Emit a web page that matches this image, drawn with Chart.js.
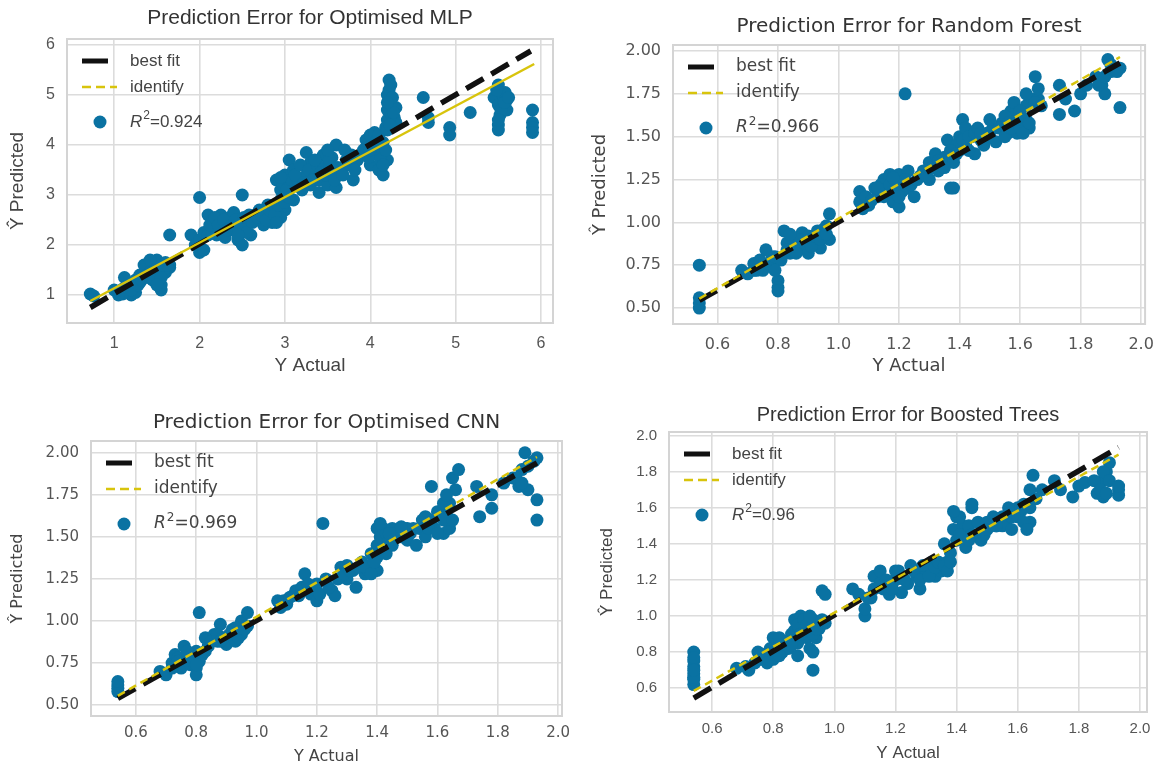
<!DOCTYPE html>
<html>
<head>
<meta charset="utf-8">
<title>Prediction Error</title>
<script src="https://cdn.jsdelivr.net/npm/chart.js@4.4.1/dist/chart.umd.min.js"></script>
<style>
  html, body { margin: 0; padding: 0; background: #fff; }
  #wrap { position: relative; width: 1165px; height: 767px; }
  #wrap canvas { position: absolute; left: 0; top: 0; }
</style>
</head>
<body>
<div id="wrap">
  <canvas id="mlp" width="1165" height="767"></canvas>
  <canvas id="rf" width="1165" height="767"></canvas>
  <canvas id="cnn" width="1165" height="767"></canvas>
  <canvas id="bt" width="1165" height="767"></canvas>
</div>
<script>
// ---- data ----

// Optimised MLP
const mlpActual = [0.72,0.76,1.0,1.05,1.1,1.15,1.2,1.25,1.22,1.18,1.1,1.12,1.25,1.3,1.3,1.35,1.4,1.4,1.45,1.45,1.5,1.5,1.5,1.55,1.55,1.55,1.6,1.6,1.65,1.65,1.65,1.35,1.42,
  1.05,1.15,1.2,1.28,1.32,1.38,1.42,1.48,1.52,1.58,1.62,1.45,1.55,1.5,
  1.9,1.95,2.0,2.0,2.05,2.05,2.0,2.1,2.1,2.15,2.2,2.25,2.2,2.3,2.3,2.35,2.4,2.4,2.45,2.5,2.5,2.5,2.55,2.6,2.6,
  2.12,2.18,2.22,2.28,2.32,2.38,2.42,2.48,2.52,2.55,2.58,2.45,
  2.65,2.7,2.7,2.75,2.8,2.8,2.85,2.9,2.9,2.95,2.95,3.0,3.0,3.0,3.05,3.05,3.1,3.1,2.85,2.75,2.95,
  2.62,2.68,2.72,2.78,2.82,2.88,2.92,2.98,3.02,3.08,2.95,3.0,3.05,2.9,
  3.15,3.2,3.25,3.25,3.3,3.35,3.4,3.4,3.45,3.5,3.5,3.55,3.6,3.6,3.65,3.7,3.75,3.8,3.85,3.3,3.45,3.55,
  3.12,3.18,3.22,3.28,3.32,3.38,3.42,3.48,3.52,3.58,3.62,3.68,3.72,3.78,3.82,3.5,3.35,
  3.9,3.95,4.0,4.0,4.05,4.1,4.1,4.15,4.15,4.2,3.95,4.05,
  3.92,3.98,4.02,4.08,4.12,4.18,4.0,4.1,4.15,
  4.2,4.2,4.22,4.22,4.22,4.25,4.25,4.28,4.3,4.3,4.2,4.18,
  4.2,4.23,4.24,4.26,4.27,4.2,
  4.62,4.68,4.68,4.93,4.93,5.17,
  5.45,5.5,5.5,5.52,5.5,5.5,5.55,5.6,5.6,5.58,
  5.48,5.53,5.57,5.62,5.5,
  5.9,5.9,5.9,5.9];
const mlpPredicted = [1.02,0.98,1.1,1.05,1.12,1.05,1.0,1.05,1.15,1.2,1.02,1.35,1.3,1.4,1.25,1.45,1.5,1.35,1.65,1.4,1.7,1.55,1.3,1.2,1.6,1.1,1.45,1.65,1.55,1.6,2.2,1.6,1.7,
  1.0,1.15,1.1,1.2,1.3,1.4,1.45,1.5,1.45,1.5,1.6,1.3,1.35,1.2,
  2.2,2.0,1.85,2.1,1.9,2.25,2.95,2.2,2.6,2.5,2.3,2.6,2.2,2.4,2.15,2.55,2.65,2.3,2.1,3.0,2.0,2.45,2.4,2.5,2.2,
  2.4,2.55,2.4,2.5,2.3,2.4,2.5,2.35,2.55,2.25,2.6,2.2,
  2.6,2.5,2.7,2.4,2.6,2.8,2.5,2.7,3.3,2.9,3.1,3.0,2.7,3.4,3.7,3.2,2.9,3.5,2.45,2.65,2.55,
  2.45,2.55,2.6,2.5,2.7,2.6,2.8,3.2,3.1,3.3,3.35,2.85,2.95,2.45,
  3.3,3.1,3.85,3.4,3.2,3.5,3.05,3.3,3.8,3.6,3.2,3.4,4.0,3.15,3.5,3.9,3.6,3.3,3.7,3.65,3.55,3.75,
  3.4,3.6,3.25,3.5,3.3,3.6,3.45,3.4,3.7,3.3,3.55,3.4,3.7,3.8,3.5,3.9,3.7,
  3.8,4.1,3.6,4.2,3.9,3.5,3.8,4.05,3.4,3.7,3.95,4.25,
  3.9,3.75,4.0,4.1,3.7,3.9,3.9,4.2,3.6,
  4.5,4.7,4.9,5.1,5.3,4.6,4.8,4.55,4.75,4.45,5.0,4.35,
  4.3,4.4,5.2,4.95,4.65,4.85,
  4.95,4.55,4.45,4.35,4.2,4.65,
  4.95,5.2,4.8,4.6,4.4,4.3,5.0,4.9,4.7,5.05,
  5.1,4.7,4.85,4.95,4.5,
  4.7,4.45,4.35,4.25];
const mlpBestFitX = [0.72, 5.88];
const mlpBestFitY = [0.75, 5.88];
const mlpIdentityX = [0.72, 5.92];
const mlpIdentityY = [0.88, 5.62];
const mlpXTicks = [1, 2, 3, 4, 5, 6];
const mlpYTicks = [1, 2, 3, 4, 5, 6];
const mlpXTickLabels = ['1', '2', '3', '4', '5', '6'];
const mlpYTickLabels = ['1', '2', '3', '4', '5', '6'];
const mlpR2 = '0.924';

// Random Forest
const rfActual = [0.54,0.54,0.54,0.54,
  0.68,0.7,0.72,0.74,0.75,0.76,0.78,0.78,0.8,0.8,0.8,0.8,0.82,0.83,0.84,0.85,0.86,0.88,0.88,0.9,0.9,0.92,0.93,0.94,0.95,0.96,0.97,0.97,0.73,0.91,
  0.72,0.77,0.79,0.81,0.83,0.86,0.87,0.89,0.91,0.92,0.94,0.95,0.96,0.84,0.79,
  1.07,1.07,1.08,1.1,1.12,1.13,1.15,1.16,1.17,1.18,1.2,1.2,1.2,1.22,1.23,1.23,1.25,1.27,1.14,1.19,
  1.09,1.11,1.13,1.15,1.17,1.19,1.21,1.22,1.24,1.26,1.18,1.2,
  1.28,1.3,1.3,1.32,1.33,1.35,1.36,1.37,1.38,1.38,1.4,1.4,1.41,1.42,1.42,1.44,1.45,1.34,1.39,
  1.29,1.31,1.33,1.35,1.37,1.39,1.41,1.43,1.43,1.45,1.47,1.49,1.51,1.54,1.56,1.58,1.6,1.62,1.64,1.66,1.63,1.59,1.57,
  1.46,1.48,1.5,1.5,1.52,1.53,1.55,1.55,1.57,1.58,1.6,1.6,1.61,1.62,1.62,1.63,1.65,1.65,1.66,1.67,1.47,1.56,1.59,
  1.73,1.73,1.75,1.78,1.8,1.82,1.85,1.87,1.88,1.89,1.9,1.93,1.93,
  1.86,1.88,1.9,1.92];
const rfPredicted = [0.5,0.53,0.56,0.75,
  0.72,0.7,0.76,0.78,0.72,0.84,0.8,0.74,0.78,0.66,0.62,0.6,0.95,0.88,0.82,0.9,0.86,0.85,0.94,0.92,0.82,0.88,0.95,0.85,0.92,0.98,1.05,0.9,0.72,0.9,
  0.72,0.76,0.8,0.78,0.84,0.82,0.9,0.88,0.86,0.92,0.9,0.96,0.93,0.93,0.72,
  1.18,1.12,1.08,1.1,1.2,1.15,1.25,1.18,1.28,1.12,1.09,1.22,1.28,1.75,1.3,1.2,1.15,1.27,1.22,1.17,
  1.15,1.13,1.2,1.15,1.22,1.2,1.18,1.25,1.22,1.25,1.26,1.15,
  1.3,1.35,1.25,1.4,1.3,1.38,1.48,1.2,1.2,1.35,1.5,1.42,1.6,1.55,1.45,1.5,1.4,1.33,1.45,
  1.27,1.32,1.36,1.32,1.42,1.4,1.48,1.5,1.42,1.52,1.48,1.52,1.55,1.58,1.52,1.6,1.58,1.68,1.72,1.72,1.55,1.52,1.65,
  1.55,1.45,1.5,1.6,1.47,1.55,1.62,1.5,1.55,1.7,1.65,1.55,1.52,1.75,1.6,1.58,1.85,1.7,1.78,1.68,1.52,1.58,1.6,
  1.8,1.63,1.72,1.65,1.75,1.8,1.85,1.8,1.75,1.95,1.88,1.9,1.67,
  1.8,1.85,1.92,1.88];
const rfBestFitX = [0.54, 1.93];
const rfBestFitY = [0.545, 1.93];
const rfIdentityX = [0.54, 1.93];
const rfIdentityY = [0.555, 1.965];
const rfXTicks = [0.6, 0.8, 1.0, 1.2, 1.4, 1.6, 1.8, 2.0];
const rfYTicks = [0.5, 0.75, 1.0, 1.25, 1.5, 1.75, 2.0];
const rfXTickLabels = ['0.6', '0.8', '1.0', '1.2', '1.4', '1.6', '1.8', '2.0'];
const rfYTickLabels = ['0.50', '0.75', '1.00', '1.25', '1.50', '1.75', '2.00'];
const rfR2 = '0.966';

// Optimised CNN
const cnnActual = [0.54,0.54,0.54,0.54,
  0.68,0.7,0.72,0.73,0.75,0.76,0.77,0.78,0.8,0.8,0.8,0.81,0.82,0.83,0.84,0.86,0.87,0.88,0.9,0.9,0.92,0.93,0.95,0.95,0.97,0.97,0.74,0.79,
  0.72,0.74,0.77,0.79,0.81,0.83,0.85,0.87,0.89,0.91,0.93,0.94,0.96,0.88,0.8,
  1.07,1.08,1.1,1.12,1.13,1.15,1.16,1.18,1.2,1.2,1.22,1.23,1.25,1.26,1.28,1.3,1.3,1.32,1.33,1.35,1.36,1.38,1.38,1.4,1.4,1.4,1.42,1.43,1.45,1.45,1.47,
  1.09,1.11,1.14,1.17,1.19,1.21,1.24,1.27,1.29,1.31,1.34,1.37,1.39,1.41,1.42,1.43,1.44,1.46,1.48,1.49,1.51,1.54,1.56,1.58,1.59,1.61,1.63,1.64,1.66,1.62,1.64,1.4,1.36,1.38,
  1.5,1.5,1.52,1.53,1.55,1.57,1.58,1.6,1.6,1.62,1.62,1.63,1.65,1.65,1.67,1.41,1.39,1.44,1.48,1.56,
  1.73,1.74,1.78,1.78,1.82,1.85,1.87,1.88,1.89,1.9,1.93,1.93,1.93,
  1.86,1.88,1.9,1.92];
const cnnPredicted = [0.58,0.6,0.62,0.64,
  0.7,0.68,0.75,0.8,0.72,0.85,0.78,0.74,0.72,0.68,0.82,1.05,0.8,0.9,0.85,0.92,0.88,0.98,0.9,0.86,0.95,0.88,0.92,1.0,1.05,0.97,0.78,0.76,
  0.72,0.76,0.82,0.78,0.76,0.82,0.88,0.92,0.9,0.92,0.96,0.9,0.95,0.88,0.74,
  1.12,1.08,1.1,1.15,1.18,1.2,1.28,1.16,1.12,1.22,1.58,1.25,1.18,1.15,1.32,1.25,1.33,1.3,1.2,1.35,1.28,1.4,1.3,1.45,1.55,1.3,1.5,1.4,1.55,1.45,1.5,
  1.12,1.14,1.15,1.22,1.2,1.16,1.2,1.25,1.28,1.3,1.32,1.3,1.35,1.5,1.55,1.52,1.48,1.52,1.5,1.55,1.52,1.55,1.5,1.6,1.55,1.62,1.65,1.7,1.78,1.52,1.55,1.38,1.32,1.28,
  1.55,1.48,1.55,1.45,1.6,1.55,1.8,1.65,1.52,1.7,1.6,1.75,1.85,1.6,1.9,1.58,1.35,1.52,1.56,1.62,
  1.8,1.62,1.75,1.67,1.82,1.85,1.8,1.9,2.0,1.78,1.97,1.72,1.6,
  1.85,1.82,1.92,1.95];
const cnnBestFitX = [0.54, 1.93];
const cnnBestFitY = [0.54, 1.94];
const cnnIdentityX = [0.54, 1.93];
const cnnIdentityY = [0.555, 1.975];
const cnnXTicks = [0.6, 0.8, 1.0, 1.2, 1.4, 1.6, 1.8, 2.0];
const cnnYTicks = [0.5, 0.75, 1.0, 1.25, 1.5, 1.75, 2.0];
const cnnXTickLabels = ['0.6', '0.8', '1.0', '1.2', '1.4', '1.6', '1.8', '2.0'];
const cnnYTickLabels = ['0.50', '0.75', '1.00', '1.25', '1.50', '1.75', '2.00'];
const cnnR2 = '0.969';

// Boosted Trees
const btActual = [0.54,0.54,0.54,0.54,0.54,0.54,0.54,0.54,0.54,
  0.68,0.72,0.74,0.75,0.76,0.78,0.8,0.8,0.82,0.83,0.85,0.86,0.87,0.88,0.88,0.89,0.9,0.91,0.92,0.93,0.93,0.94,0.95,0.96,0.97,0.97,0.79,0.84,
  0.71,0.76,0.78,0.81,0.82,0.84,0.86,0.87,0.88,0.89,0.9,0.91,0.92,0.93,0.93,0.94,0.96,0.82,
  1.06,1.08,1.1,1.1,1.12,1.13,1.15,1.16,1.18,1.2,1.2,1.22,1.24,1.25,1.27,1.28,1.3,1.32,1.33,1.35,1.37,1.38,1.4,1.4,1.42,1.43,1.45,1.46,1.48,
  1.11,1.13,1.15,1.17,1.19,1.21,1.23,1.26,1.28,1.29,1.31,1.33,1.34,1.36,1.37,1.38,1.39,1.41,1.42,1.44,1.45,1.47,1.49,1.51,1.53,1.55,1.56,1.58,1.6,1.61,1.62,1.64,1.64,1.45,
  1.5,1.5,1.52,1.55,1.57,1.58,1.6,1.62,1.63,1.64,1.65,1.66,1.68,1.36,1.39,1.41,1.44,1.53,1.61,
  1.72,1.74,1.78,1.8,1.82,1.86,1.88,1.88,1.89,1.9,1.93,1.93,
  1.85,1.87,1.88,1.89,1.9,1.93];
const btPredicted = [0.62,0.65,0.68,0.72,0.75,0.8,0.66,0.7,0.77,
  0.71,0.7,0.74,0.8,0.76,0.78,0.88,0.76,0.84,0.8,0.82,0.9,0.98,0.85,0.78,1.0,0.94,0.88,0.82,0.7,0.98,0.88,0.93,1.14,1.12,0.96,0.82,0.86,
  0.72,0.79,0.74,0.8,0.78,0.85,0.84,0.92,0.95,0.9,0.98,0.95,1.0,0.9,0.8,0.93,0.98,0.88,
  1.15,1.12,1.0,1.04,1.1,1.22,1.25,1.15,1.12,1.2,1.25,1.13,1.18,1.28,1.22,1.15,1.25,1.3,1.22,1.25,1.3,1.35,1.42,1.55,1.5,1.38,1.6,1.45,1.42,
  1.1,1.15,1.18,1.2,1.15,1.25,1.2,1.25,1.2,1.28,1.22,1.27,1.3,1.28,1.25,1.3,1.48,1.55,1.45,1.5,1.45,1.52,1.45,1.5,1.5,1.55,1.52,1.55,1.6,1.58,1.62,1.6,1.52,1.62,
  1.52,1.48,1.55,1.5,1.6,1.48,1.55,1.52,1.48,1.7,1.78,1.65,1.7,1.4,1.58,1.45,1.42,1.5,1.6,
  1.75,1.7,1.66,1.72,1.74,1.68,1.75,1.66,1.8,1.85,1.7,1.67,
  1.75,1.7,1.8,1.68,1.75,1.72];
const btBestFitX = [0.54, 1.93];
const btBestFitY = [0.545, 1.935];
const btIdentityX = [0.54, 1.93];
const btIdentityY = [0.585, 1.895];
const btXTicks = [0.6, 0.8, 1.0, 1.2, 1.4, 1.6, 1.8, 2.0];
const btYTicks = [0.6, 0.8, 1.0, 1.2, 1.4, 1.6, 1.8, 2.0];
const btXTickLabels = ['0.6', '0.8', '1.0', '1.2', '1.4', '1.6', '1.8', '2.0'];
const btYTickLabels = ['0.6', '0.8', '1.0', '1.2', '1.4', '1.6', '1.8', '2.0'];
const btR2 = '0.96';

// ---- styling ----
const POINT_COLOR = '#0a72a2';
const FIT_COLOR = '#111111';
const IDENT_COLOR = '#d8c40c';
const GRID_COLOR = '#dcdcdc';
const TEXT_COLOR = '#444444';
const ARIAL = '"Liberation Sans", Arial, sans-serif';
const DEJAVU = '"DejaVu Sans", sans-serif';

function zip(xs, ys) {
  return xs.map((x, i) => ({ x: x, y: ys[i] }));
}

// draws the frame around the plot, the title and the in-axes legend
const panelDecor = {
  id: 'panelDecor',
  beforeDatasetsDraw(chart, args, opts) {
    const a = chart.chartArea;
    const ctx = chart.ctx;
    ctx.save();
    ctx.strokeStyle = '#d4d4d4';
    ctx.lineWidth = 2;
    ctx.strokeRect(a.left, a.top, a.right - a.left, a.bottom - a.top);
    ctx.restore();
  },
  afterDraw(chart, args, opts) {
    const a = chart.chartArea;
    const ctx = chart.ctx;
    ctx.save();
    // title
    ctx.fillStyle = '#333';
    ctx.font = opts.titleSize + 'px ' + opts.family;
    ctx.textAlign = 'center';
    ctx.textBaseline = 'middle';
    ctx.fillText(opts.title, (a.left + a.right) / 2, opts.titleY);

    // legend
    const lx = a.left + 15, tx = a.left + 63;
    const r1 = a.top + 22, r2 = a.top + 48, r3 = a.top + 83;
    ctx.lineCap = 'butt';
    ctx.strokeStyle = FIT_COLOR;
    ctx.lineWidth = 5;
    ctx.beginPath(); ctx.moveTo(lx, r1); ctx.lineTo(lx + 26, r1); ctx.stroke();
    ctx.strokeStyle = IDENT_COLOR;
    ctx.lineWidth = 2.5;
    ctx.setLineDash([9, 5]);
    ctx.beginPath(); ctx.moveTo(lx, r2); ctx.lineTo(lx + 35, r2); ctx.stroke();
    ctx.setLineDash([]);
    ctx.fillStyle = POINT_COLOR;
    ctx.beginPath(); ctx.arc(a.left + 33, r3, 6.5, 0, Math.PI * 2); ctx.fill();

    ctx.fillStyle = TEXT_COLOR;
    ctx.textAlign = 'left';
    ctx.font = opts.legendSize + 'px ' + opts.family;
    ctx.fillText('best fit', tx, r1);
    ctx.fillText('identify', tx, r2);
    ctx.font = 'italic ' + opts.legendSize + 'px ' + opts.family;
    ctx.fillText('R', tx, r3);
    let w = ctx.measureText('R').width;
    ctx.font = Math.round(opts.legendSize * 0.7) + 'px ' + opts.family;
    ctx.fillText('2', tx + w + 1, r3 - 6);
    w += ctx.measureText('2').width + 1;
    ctx.font = opts.legendSize + 'px ' + opts.family;
    ctx.fillText('=' + opts.r2, tx + w, r3);
    ctx.restore();
  }
};

function makePanel(id, p) {
  const W = 1165, H = 767;
  const half = p.axisTitleSize * 1.2 / 2;
  const yAxisW = p.area.l - p.yTitleX + half;
  const xAxisH = p.xTitleY + half - p.area.b;
  new Chart(document.getElementById(id), {
    type: 'scatter',
    data: {
      datasets: [
        {
          label: 'identify',
          data: zip(p.identX, p.identY),
          showLine: true,
          borderColor: IDENT_COLOR,
          borderWidth: 2.5,
          borderDash: p.identDash,
          pointRadius: 0
        },
        {
          label: 'best fit',
          data: zip(p.fitX, p.fitY),
          showLine: true,
          borderColor: FIT_COLOR,
          borderWidth: 5.5,
          borderDash: [20, 9],
          pointRadius: 0
        },
        {
          label: 'R2',
          data: zip(p.actual, p.predicted),
          backgroundColor: POINT_COLOR,
          borderWidth: 0,
          pointRadius: 6.5
        }
      ]
    },
    options: {
      responsive: false,
      animation: false,
      events: [],
      layout: {
        padding: {
          left: p.area.l - yAxisW,
          top: p.area.t,
          right: W - p.area.r,
          bottom: H - p.area.b - xAxisH
        }
      },
      plugins: {
        legend: { display: false },
        tooltip: { enabled: false },
        panelDecor: {
          title: p.title, titleY: p.titleY, titleSize: p.titleSize,
          family: p.family, legendSize: 17, r2: p.r2
        }
      },
      scales: {
        x: {
          type: 'linear',
          min: p.xMin, max: p.xMax,
          afterBuildTicks: s => { s.ticks = p.xTicks.map(v => ({ value: v })); },
          afterFit: s => { s.height = xAxisH; },
          grid: { color: GRID_COLOR, lineWidth: 1.6, drawTicks: false },
          border: { display: false },
          ticks: {
            padding: p.tickPad,
            color: '#555',
            font: { family: p.family, size: p.tickSize },
            maxRotation: 0,
            autoSkip: false,
            callback: (v, i) => p.xTickLabels[i]
          },
          title: {
            display: true, text: 'Y Actual', color: TEXT_COLOR,
            padding: 0, font: { family: p.family, size: p.axisTitleSize }
          }
        },
        y: {
          type: 'linear',
          min: p.yMin, max: p.yMax,
          afterBuildTicks: s => { s.ticks = p.yTicks.map(v => ({ value: v })); },
          afterFit: s => { s.width = yAxisW; },
          grid: { color: GRID_COLOR, lineWidth: 1.6, drawTicks: false },
          border: { display: false },
          ticks: {
            padding: 12,
            color: '#555',
            font: { family: p.family, size: p.tickSize },
            autoSkip: false,
            callback: (v, i) => p.yTickLabels[i]
          },
          title: {
            display: true, text: 'Ŷ Predicted', color: TEXT_COLOR,
            padding: 0, font: { family: p.family, size: p.axisTitleSize }
          }
        }
      }
    },
    plugins: [panelDecor]
  });
}

makePanel('mlp', {
  title: 'Prediction Error for Optimised MLP', titleY: 18, titleSize: 21, family: ARIAL,
  tickSize: 16, axisTitleSize: 19, tickPad: 11,
  area: { l: 67, t: 39, r: 553, b: 323 }, yTitleX: 18, xTitleY: 366,
  xMin: 0.447, xMax: 6.14, yMin: 0.44, yMax: 6.12,
  xTicks: mlpXTicks, yTicks: mlpYTicks, xTickLabels: mlpXTickLabels, yTickLabels: mlpYTickLabels,
  actual: mlpActual, predicted: mlpPredicted,
  fitX: mlpBestFitX, fitY: mlpBestFitY, identX: mlpIdentityX, identY: mlpIdentityY, identDash: [],
  r2: mlpR2
});

makePanel('rf', {
  title: 'Prediction Error for Random Forest', titleY: 27, titleSize: 20, family: DEJAVU,
  tickSize: 16, axisTitleSize: 18, tickPad: 11,
  area: { l: 673, t: 45, r: 1150, b: 324 }, yTitleX: 600, xTitleY: 366,
  xMin: 0.453, xMax: 2.013, yMin: 0.407, yMax: 2.035,
  xTicks: rfXTicks, yTicks: rfYTicks, xTickLabels: rfXTickLabels, yTickLabels: rfYTickLabels,
  actual: rfActual, predicted: rfPredicted,
  fitX: rfBestFitX, fitY: rfBestFitY, identX: rfIdentityX, identY: rfIdentityY, identDash: [8, 5],
  r2: rfR2
});

makePanel('cnn', {
  title: 'Prediction Error for Optimised CNN', titleY: 423, titleSize: 20, family: DEJAVU,
  tickSize: 15, axisTitleSize: 16, tickPad: 8,
  area: { l: 91, t: 441, r: 562, b: 716 }, yTitleX: 18, xTitleY: 757,
  xMin: 0.451, xMax: 2.013, yMin: 0.435, yMax: 2.07,
  xTicks: cnnXTicks, yTicks: cnnYTicks, xTickLabels: cnnXTickLabels, yTickLabels: cnnYTickLabels,
  actual: cnnActual, predicted: cnnPredicted,
  fitX: cnnBestFitX, fitY: cnnBestFitY, identX: cnnIdentityX, identY: cnnIdentityY, identDash: [8, 5],
  r2: cnnR2
});

makePanel('bt', {
  title: 'Prediction Error for Boosted Trees', titleY: 415, titleSize: 20, family: ARIAL,
  tickSize: 15, axisTitleSize: 17, tickPad: 8,
  area: { l: 669, t: 432, r: 1147, b: 712 }, yTitleX: 607, xTitleY: 753,
  xMin: 0.459, xMax: 2.023, yMin: 0.468, yMax: 2.02,
  xTicks: btXTicks, yTicks: btYTicks, xTickLabels: btXTickLabels, yTickLabels: btYTickLabels,
  actual: btActual, predicted: btPredicted,
  fitX: btBestFitX, fitY: btBestFitY, identX: btIdentityX, identY: btIdentityY, identDash: [8, 5],
  r2: btR2
});
</script>
</body>
</html>
